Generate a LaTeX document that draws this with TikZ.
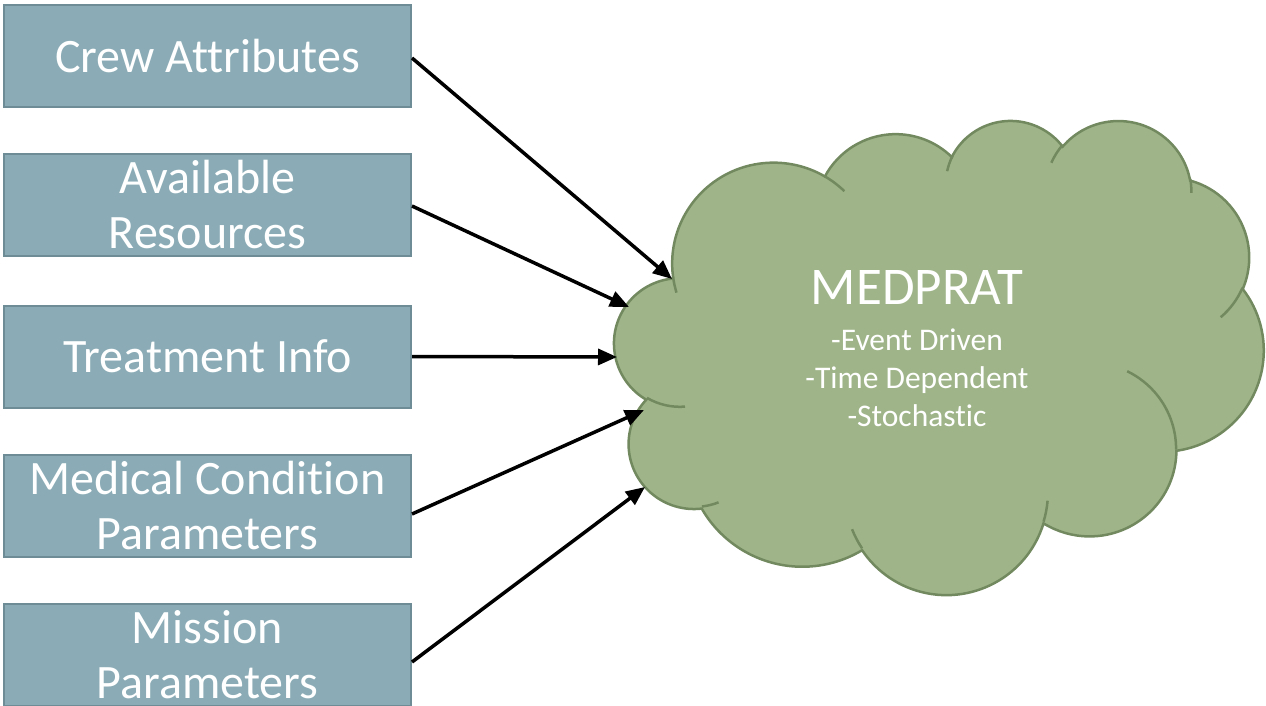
\documentclass[tikz,border=0pt]{standalone}
\usepackage{fontspec}
\setmainfont{Carlito}[Ligatures=NoCommon]
\usetikzlibrary{arrows.meta}
\definecolor{boxfill}{HTML}{8BACB6}
\definecolor{boxline}{HTML}{6D8C96}
\definecolor{cldfill}{HTML}{9FB589}
\definecolor{cldline}{HTML}{72895F}
% parametric start/end angles of an OOXML-style arc (visual angles in degrees)
\newcommand\cldang[6]{%
  \pgfmathsetmacro\cldtmp{atan2((#3)*sin(#5),(#4)*cos(#5))}%
  \pgfmathsetmacro#1{\cldtmp+360*round(((#5)-\cldtmp)/360)}%
  \pgfmathsetmacro\cldtmp{atan2((#3)*sin((#5)+(#6)),(#4)*cos((#5)+(#6)))}%
  \pgfmathsetmacro#2{\cldtmp+360*round(((#5)+(#6)-\cldtmp)/360)}%
}
\begin{document}
\begin{tikzpicture}[x=1pt,y=-1pt,
  inbox/.style={draw=boxline,fill=boxfill,line width=2pt,minimum width=407pt,minimum height=102pt,inner sep=0pt},
  intext/.style={text=white,align=center,font=\fontsize{48}{55}\selectfont,inner sep=0pt},
  cloudbody/.style={draw=cldline,fill=cldfill,line width=2.5pt},
  crease/.style={draw=cldline,line width=2.5pt},
  bigtext/.style={text=white,font=\fontsize{53}{60}\selectfont,inner sep=0pt,anchor=base},
  smalltext/.style={text=white,font=\fontsize{31.5}{38}\selectfont,inner sep=0pt,anchor=base},
  arr/.style={line width=3.5pt,-{Triangle[length=19pt,width=16pt]}}]
\useasboundingbox (0,0) rectangle (1266,706);
\clip (0,0) rectangle (1266,706);

% ---- cloud ----
\cldang\clas\clae{67.53}{91.90}{-190.4875}{123.7805}
\cldang\clbs\clbe{53.33}{72.67}{-144.1024}{89.9452}
\cldang\clcs\clce{43.65}{59.45}{-145.8079}{99.7230}
\cldang\clds\clde{48.57}{65.95}{-130.9861}{117.2417}
\cldang\cles\clee{53.33}{72.73}{-78.7089}{109.0269}
\cldang\clfs\clfe{67.75}{92.20}{-46.2673}{130.2690}
\cldang\clgs\clge{57.85}{78.67}{0.6250}{114.0333}
\cldang\clhs\clhe{67.52}{92.15}{22.4516}{115.1726}
\cldang\clis\clie{77.20}{105.43}{66.2426}{75.7110}
\cldang\cljs\clje{43.60}{59.18}{-274.9421}{146.7356}
\cldang\clks\clke{43.45}{59.45}{-246.8285}{152.5189}
\cldang\cras\crae{43.45}{59.45}{86.7420}{26.4295}
\cldang\crbs\crbe{43.60}{59.18}{73.6105}{11.4475}
\cldang\crcs\crce{67.52}{92.15}{137.6242}{14.0811}
\cldang\crds\crde{67.52}{92.15}{6.4533}{15.9984}
\cldang\cres\cree{57.85}{78.67}{-70.2924}{70.9174}
\cldang\crfs\crfe{53.33}{72.73}{30.3180}{27.7515}
\cldang\crgs\crge{48.57}{65.95}{-13.7443}{14.8589}
\cldang\crhs\crhe{48.57}{65.95}{-149.1815}{18.1954}
\cldang\cris\crie{43.65}{59.45}{-163.4943}{17.6864}
\cldang\crjs\crje{67.53}{91.90}{-66.7070}{12.3194}
\cldang\crks\crke{67.53}{91.90}{157.6544}{11.8582}
\begin{scope}[shift={(614.5,119.4)},x=1.50231pt,y=-1.09722pt]
\draw[cloudbody] (39.00,143.70)
  arc[start angle=\clas,end angle=\clae,x radius=67.53,y radius=91.90]
  arc[start angle=\clbs,end angle=\clbe,x radius=53.33,y radius=72.67]
  arc[start angle=\clcs,end angle=\clce,x radius=43.65,y radius=59.45]
  arc[start angle=\clds,end angle=\clde,x radius=48.57,y radius=65.95]
  arc[start angle=\cles,end angle=\clee,x radius=53.33,y radius=72.73]
  arc[start angle=\clfs,end angle=\clfe,x radius=67.75,y radius=92.20]
  arc[start angle=\clgs,end angle=\clge,x radius=57.85,y radius=78.67]
  arc[start angle=\clhs,end angle=\clhe,x radius=67.52,y radius=92.15]
  arc[start angle=\clis,end angle=\clie,x radius=77.20,y radius=105.43]
  arc[start angle=\cljs,end angle=\clje,x radius=43.60,y radius=59.18]
  arc[start angle=\clks,end angle=\clke,x radius=43.45,y radius=59.45]
  -- cycle;
\draw[crease] (46.93,261.77) arc[start angle=\cras,end angle=\crae,x radius=43.45,y radius=59.45];
\draw[crease] (69.28,348.99) arc[start angle=\crbs,end angle=\crbe,x radius=43.60,y radius=59.18];
\draw[crease] (164.78,390.90) arc[start angle=\crcs,end angle=\crce,x radius=67.52,y radius=92.15];
\draw[crease] (288.27,347.51) arc[start angle=\crds,end angle=\crde,x radius=67.52,y radius=92.15];
\draw[crease] (341.29,229.54) arc[start angle=\cres,end angle=\cree,x radius=57.85,y radius=78.67];
\draw[crease] (417.98,153.54) arc[start angle=\crfs,end angle=\crfe,x radius=53.33,y radius=72.73];
\draw[crease] (383.24,54.26) arc[start angle=\crgs,end angle=\crge,x radius=48.57,y radius=65.95];
\draw[crease] (290.78,39.52) arc[start angle=\crhs,end angle=\crhe,x radius=48.57,y radius=65.95];
\draw[crease] (221.41,47.20) arc[start angle=\cris,end angle=\crie,x radius=43.65,y radius=59.45];
\draw[crease] (140.00,51.92) arc[start angle=\crjs,end angle=\crje,x radius=67.53,y radius=91.90];
\draw[crease] (41.27,157.89) arc[start angle=\crks,end angle=\crke,x radius=67.53,y radius=91.90];
\end{scope}

\node[bigtext] (mt) at (917,304) {MEDPRAT};
\node[smalltext] (m1) at (917,350) {-Event Driven};
\node[smalltext] (m2) at (917,388) {-Time Dependent};
\node[smalltext] (m3) at (917,426) {-Stochastic};

% ---- input boxes ----
\node[inbox] (b1) at (207.5,56) {};
\node[inbox] (b2) at (207.5,205) {};
\node[inbox] (b3) at (207.5,356.5) {};
\node[inbox] (b4) at (207.5,505.5) {};
\node[inbox] (b5) at (207.5,655) {};
\node[intext] (t1) at (b1) {Crew Attributes};
\node[intext] (t2) at (b2) {Available\\Resources};
\node[intext] (t3) at (b3) {Treatment Info};
\node[intext] (t4) at (b4) {Medical Condition\\Parameters};
\node[intext] (t5) at (b5) {Mission\\Parameters};

% ---- arrow tips on the cloud ----
\coordinate (p1) at (672,279);
\coordinate (p2) at (629,307);
\coordinate (p3) at (617,357);
\coordinate (p4) at (644,410);
\coordinate (p5) at (645,487);
\draw[arr] ([yshift=-2pt]b1.east) -- (p1);
\draw[arr] ([yshift=-1pt]b2.east) -- (p2);
\draw[arr] (b3.east) -- (p3);
\draw[arr] ([yshift=-8.5pt]b4.east) -- (p4);
\draw[arr] ([yshift=-7pt]b5.east) -- (p5);
\end{tikzpicture}
\end{document}
